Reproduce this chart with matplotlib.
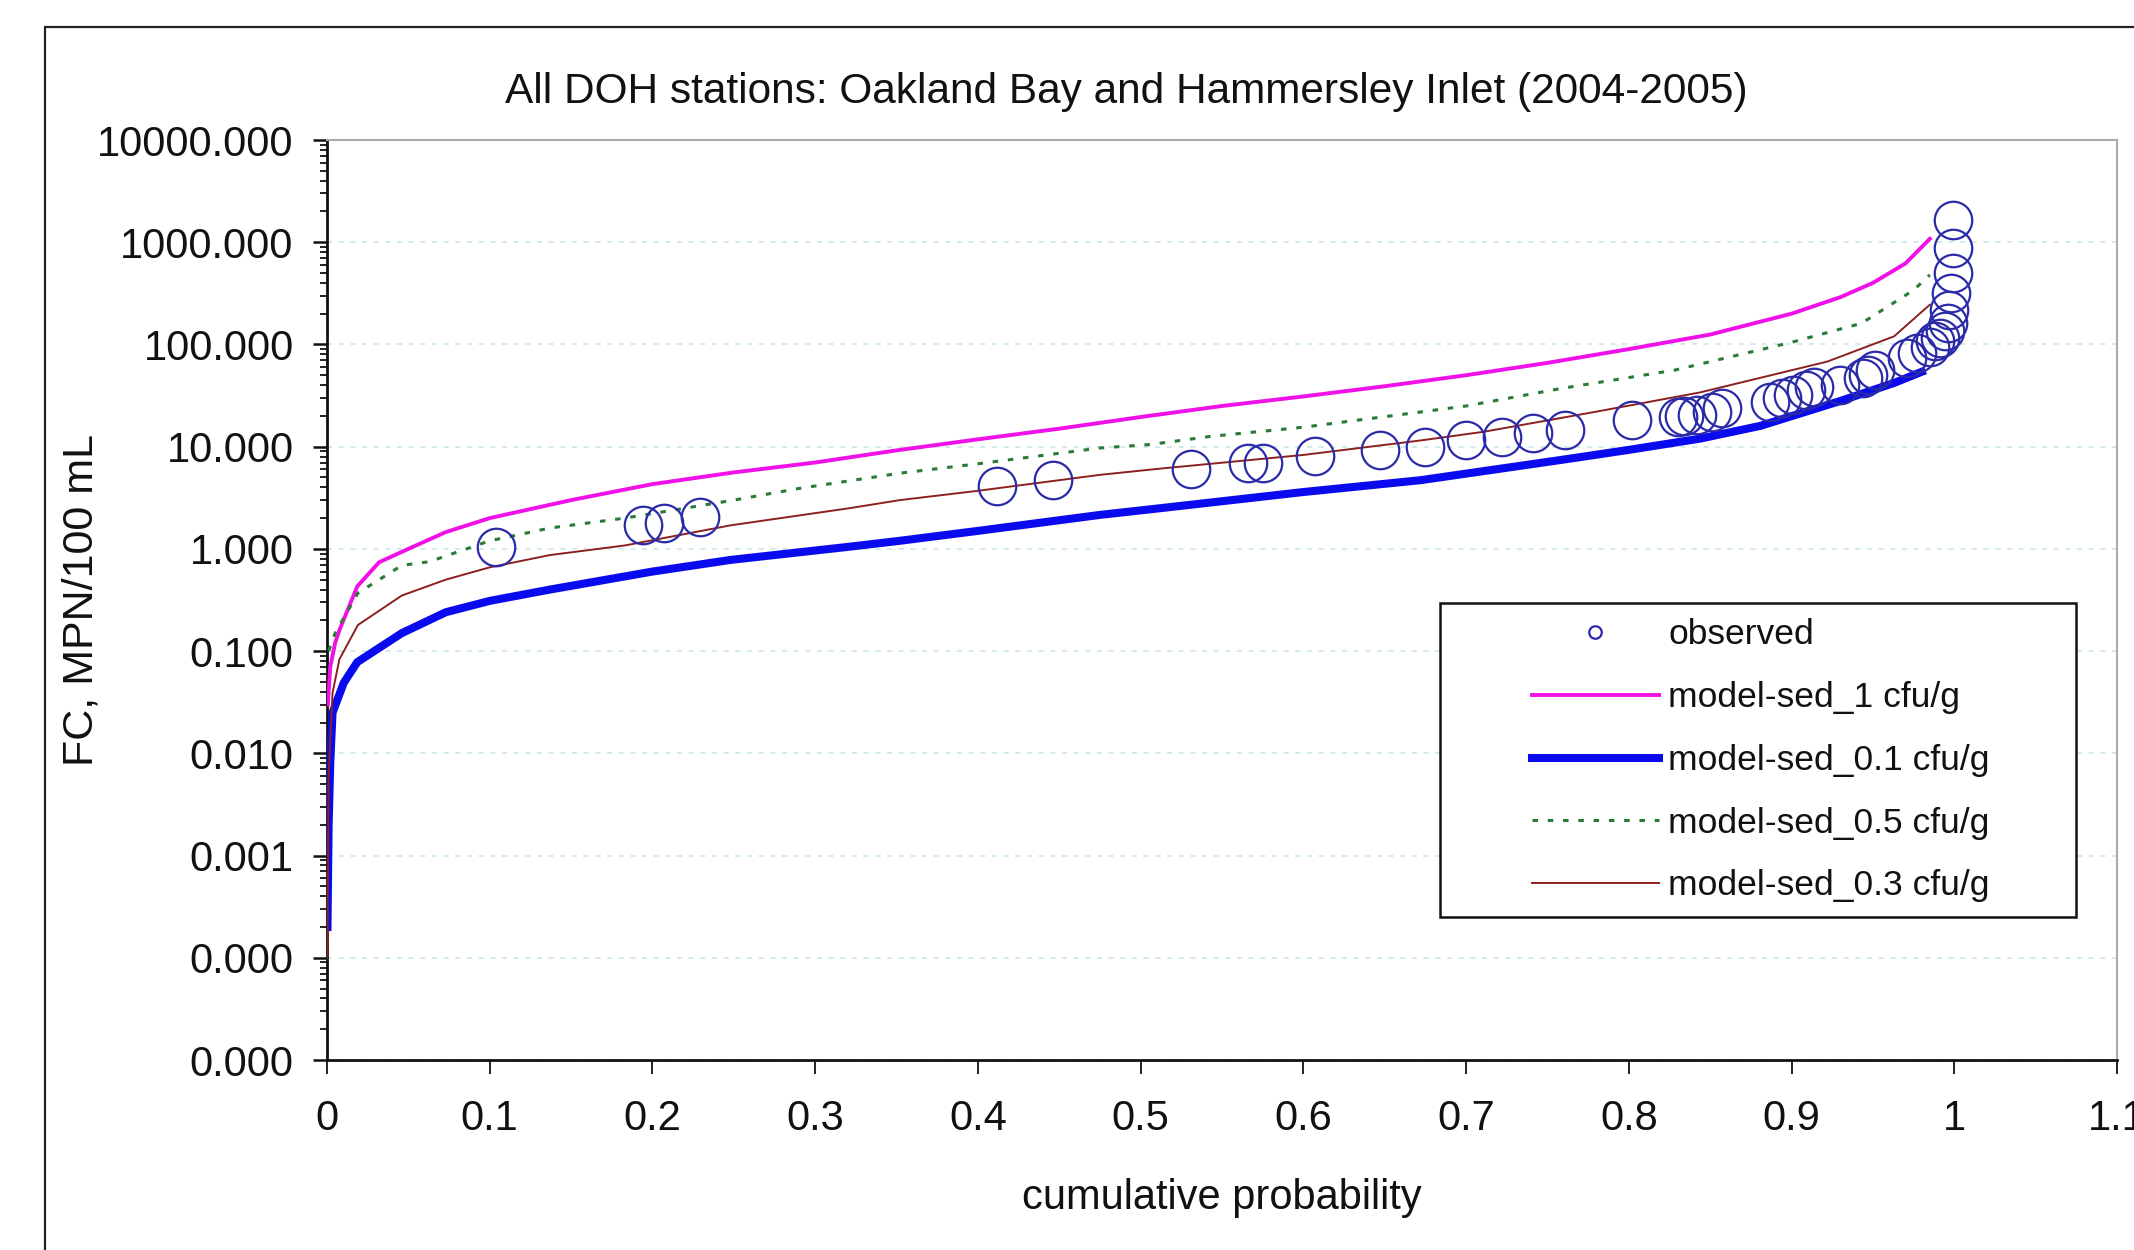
import matplotlib
matplotlib.use("Agg")
import matplotlib.pyplot as plt
from matplotlib.ticker import LogLocator, FuncFormatter, FixedLocator, NullFormatter
from matplotlib.patches import Rectangle
from matplotlib.lines import Line2D

plt.rcParams['font.family'] = ['Liberation Sans', 'DejaVu Sans']

# ---------------- data ----------------
obs_p = [0.104, 0.194, 0.207, 0.229, 0.412, 0.446, 0.531, 0.566, 0.575, 0.607,
         0.647, 0.675, 0.700, 0.722, 0.741, 0.761, 0.802, 0.830, 0.834, 0.842,
         0.851, 0.857, 0.887, 0.894, 0.901, 0.909, 0.914, 0.930, 0.944, 0.947,
         0.951, 0.971, 0.977, 0.985, 0.988, 0.991, 0.994, 0.996, 0.997, 0.998,
         0.999, 0.999, 0.999]
obs_fc = [1.05, 1.72, 1.81, 2.07, 4.13, 4.73, 6.0, 6.9, 7.0, 8.1,
          9.3, 10.0, 11.7, 12.4, 13.6, 14.5, 18.2, 19.5, 19.8, 20.5,
          22.0, 23.8, 27.5, 29.8, 32.0, 36.0, 38.7, 40.0, 47.0, 50.0,
          56.0, 73.0, 83.0, 95.0, 107.0, 115.0, 134.0, 162.0, 218.0, 316.0,
          500.0, 870.0, 1660.0]

sed1_p = [0.0005, 0.002, 0.005, 0.0076, 0.0186, 0.032, 0.05, 0.073, 0.1, 0.15,
          0.2, 0.25, 0.3, 0.35, 0.4, 0.45, 0.5, 0.55, 0.6, 0.65, 0.7, 0.75,
          0.8, 0.85, 0.9, 0.93, 0.95, 0.97, 0.985]
sed1_fc = [0.03, 0.07, 0.12, 0.16, 0.43, 0.74, 1.0, 1.46, 2.0, 3.0,
           4.3, 5.6, 7.0, 9.2, 11.8, 15.0, 19.5, 25.0, 31.0, 39.0, 50.0, 66.0,
           90.0, 125.0, 200.0, 290.0, 400.0, 620.0, 1080.0]

sed01_p = [0.0003, 0.001, 0.002, 0.0034, 0.0103, 0.0186, 0.046, 0.073, 0.1, 0.137,
           0.2, 0.248, 0.321, 0.352, 0.4, 0.475, 0.512, 0.6, 0.672, 0.758,
           0.8, 0.844, 0.881, 0.93, 0.963, 0.98]
sed01_fc = [0.0002, 0.002, 0.008, 0.025, 0.049, 0.078, 0.15, 0.24, 0.31, 0.40,
            0.6, 0.78, 1.05, 1.2, 1.5, 2.15, 2.5, 3.6, 4.7, 7.4,
            9.3, 12.0, 16.0, 28.0, 42.0, 54.0]

sed05_p = [0.001, 0.005, 0.019, 0.046, 0.063, 0.1, 0.137, 0.183, 0.25, 0.29,
           0.352, 0.4, 0.475, 0.506, 0.543, 0.6, 0.664, 0.7, 0.758, 0.828,
           0.9, 0.943, 0.975, 0.985]
sed05_fc = [0.1, 0.15, 0.37, 0.69, 0.75, 1.2, 1.6, 2.0, 3.0, 3.9,
            5.5, 6.8, 9.7, 10.5, 12.6, 15.5, 21.0, 25.0, 37.0, 56.0,
            105.0, 161.0, 340.0, 480.0]

sed03_p = [0.0003, 0.001, 0.0034, 0.0076, 0.019, 0.046, 0.073, 0.1, 0.137, 0.183,
           0.248, 0.321, 0.352, 0.4, 0.475, 0.512, 0.6, 0.672, 0.711, 0.78,
           0.844, 0.922, 0.963, 0.985]
sed03_fc = [0.0001, 0.006, 0.039, 0.083, 0.18, 0.35, 0.5, 0.66, 0.87, 1.08,
            1.7, 2.5, 3.0, 3.7, 5.3, 6.1, 8.3, 11.5, 14.0, 22.0,
            34.0, 68.0, 120.0, 245.0]

x_ticks = [0, 0.1, 0.2, 0.3, 0.4, 0.5, 0.6, 0.7, 0.8, 0.9, 1.0, 1.1]
x_tick_labels = ["0", "0.1", "0.2", "0.3", "0.4", "0.5", "0.6", "0.7", "0.8", "0.9", "1", "1.1"]
y_ticks = [1e-5, 1e-4, 1e-3, 1e-2, 1e-1, 1, 10, 100, 1000, 10000]

labels = ["observed", "model-sed_1 cfu/g", "model-sed_0.1 cfu/g",
          "model-sed_0.5 cfu/g", "model-sed_0.3 cfu/g"]

# ---------------- figure ----------------
W, H = 2134, 1250
fig = plt.figure(figsize=(W / 100, H / 100), dpi=100)
fig.patch.set_facecolor('white')

# outer chart frame
fig.patches.append(Rectangle((45 / W, -0.02), 1.2, 1 - 27 / H + 0.02,
                             transform=fig.transFigure, fill=False,
                             edgecolor='#222222', linewidth=1.6, zorder=0))

ax = fig.add_axes([327 / W, 1 - 1060 / H, 1790 / W, 920 / H])
ax.set_facecolor('white')

c_mag = '#f010e8'
c_blue = '#0a0aee'
c_green = '#2a7a3a'
c_brown = '#8c2020'
c_obs = '#2a2aa8'

ax.plot(sed1_p, sed1_fc, color=c_mag, lw=2.8, zorder=3)
ax.plot(sed01_p, sed01_fc, color=c_blue, lw=5.8, zorder=3)
ax.plot(sed05_p, sed05_fc, color=c_green, lw=2.2, ls=(0, (1.8, 3.2)), zorder=3)
ax.plot(sed03_p, sed03_fc, color=c_brown, lw=1.4, zorder=3)
ax.plot(obs_p, obs_fc, ls='none', marker='o', ms=27, mfc='none',
        mec=c_obs, mew=1.6, zorder=4)

ax.set_yscale('log')
ax.set_ylim(1e-5, 1e4)
ax.set_xlim(0, 1.1)

ax.yaxis.set_major_locator(FixedLocator(y_ticks))
ax.yaxis.set_major_formatter(FuncFormatter(lambda v, p: f"{v:.3f}"))
ax.yaxis.set_minor_locator(LogLocator(base=10, subs=range(2, 10), numticks=30))
ax.yaxis.set_minor_formatter(NullFormatter())
ax.set_xticks(x_ticks)
ax.set_xticklabels(x_tick_labels)

ax.tick_params(axis='y', which='major', direction='out', length=10, width=1.8,
               labelsize=30, pad=14, colors='#111111')
ax.tick_params(axis='y', which='minor', direction='out', length=5, width=1.3,
               colors='#111111')
ax.tick_params(axis='x', which='major', direction='out', length=10, width=1.3,
               labelsize=30, pad=18, colors='#111111')

for s in ['left', 'bottom']:
    ax.spines[s].set_color('#111111')
    ax.spines[s].set_linewidth(2.0)
for s in ['top', 'right']:
    ax.spines[s].set_color('#aaaaaa')
    ax.spines[s].set_linewidth(1.5)

ax.grid(True, axis='y', which='major', color='#c8e6e6', ls=(0, (3, 4)), lw=1.2, zorder=1)
ax.set_axisbelow(True)

fig.text(0.528, 1 - 92 / H, "All DOH stations: Oakland Bay and Hammersley Inlet (2004-2005)",
         ha='center', va='center', fontsize=30.5, color='#111111')
fig.text(1222 / W, 1 - 1198 / H, "cumulative probability", ha='center', va='center',
         fontsize=30, color='#111111')
fig.text(82 / W, 1 - 600 / H, "FC, MPN/100 mL", ha='center', va='center',
         rotation=90, fontsize=31, color='#111111')

# legend
ax.add_patch(Rectangle((0.622, 0.155), 0.355, 0.342, transform=ax.transAxes,
                       facecolor='white', edgecolor='#111111', lw=1.8, zorder=6))
handles = [
    Line2D([], [], ls='none', marker='o', ms=9, mfc='none', mec=c_obs, mew=1.6),
    Line2D([], [], color=c_mag, lw=2.8),
    Line2D([], [], color=c_blue, lw=5.8),
    Line2D([], [], color=c_green, lw=2.2, ls=(0, (1.8, 3.2))),
    Line2D([], [], color=c_brown, lw=1.4),
]
leg = ax.legend(handles, labels, loc='upper left', bbox_to_anchor=(0.673, 0.480),
                frameon=False, fontsize=25.5, handlelength=3.6, handletextpad=0.25,
                labelspacing=0.84, borderpad=0, borderaxespad=0)
leg.set_zorder(7)
for t in leg.get_texts():
    t.set_color('#111111')

fig.savefig("out.png", dpi=100, facecolor='white')
